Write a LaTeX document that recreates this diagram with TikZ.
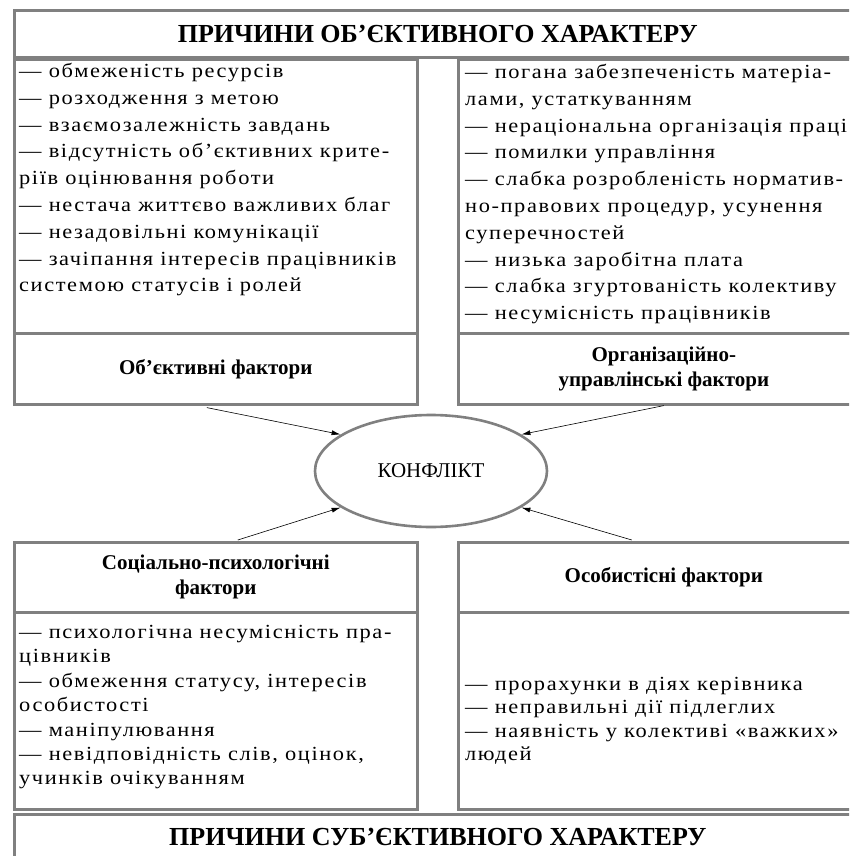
\documentclass[tikz,border=0pt]{standalone}
\usepackage{fontspec}
\setmainfont{Liberation Serif}
\newfontfamily\listfont[LetterSpace=8,FakeStretch=1.12]{Liberation Serif}
\usetikzlibrary{arrows.meta,shapes.geometric,calc}

\begin{document}
\begin{tikzpicture}[x=1pt,y=-1pt,
  frame/.style={draw=gray,line width=2.6pt,inner sep=0pt,anchor=north west},
  listtext/.style={anchor=north west,inner sep=0pt,align=left,
    font=\listfont\fontsize{20}{26.8}\selectfont},
  factor/.style={font=\bfseries\fontsize{21}{25}\selectfont,align=center},
  headline/.style={font=\bfseries\fontsize{26}{28}\selectfont},
  arr/.style={-{Latex[length=9pt,width=5pt]},line width=0.6pt}]
  \useasboundingbox (0,0) rectangle (849,856);
  \clip (0,0) rectangle (849,856);
  % top
  \node[frame,headline,minimum width=847pt,minimum height=47pt] (objtitle) at (13,9)
  {ПРИЧИНИ ОБ’ЄКТИВНОГО ХАРАКТЕРУ};
  \node[frame,minimum width=403pt,minimum height=274pt] (objbox) at (13,58) {};
  \node[frame,minimum width=411pt,minimum height=274pt] (orgbox) at (457,58) {};
  \node[listtext] (objlist) at ($(objbox.north west)+(6,5)$)
  {— обмеженість ресурсів\\
   — розходження з метою\\
   — взаємозалежність завдань\\
   — відсутність об’єктивних крите-\\
   ріїв оцінювання роботи\\
   — нестача життєво важливих благ\\
   — незадовільні комунікації\\
   — зачіпання інтересів працівників\\
   системою статусів і ролей};
  \node[listtext] (orglist) at ($(orgbox.north west)+(8,6)$)
  {— погана забезпеченість матеріа-\\
   лами, устаткуванням\\
   — нераціональна організація праці\\
   — помилки управління\\
   — слабка розробленість норматив-\\
   но-правових процедур, усунення\\
   суперечностей\\
   — низька заробітна плата\\
   — слабка згуртованість колективу\\
   — несумісність працівників};
  \node[frame,factor,minimum width=403pt,minimum height=71pt] (objf) at (13,332)
  {Об’єктивні фактори};
  \node[frame,factor,minimum width=411pt,minimum height=71pt] (orgf) at (457,332)
  {Організаційно-\\управлінські фактори};
  % centre
  \node[draw=gray,line width=2.6pt,ellipse,inner sep=0pt,minimum width=232pt,
    minimum height=112pt,font=\fontsize{21}{23}\selectfont] (konf) at (431,471) {КОНФЛІКТ};
  % bottom
  \node[frame,factor,minimum width=403pt,minimum height=70pt] (socf) at (13,541)
  {Соціально-психологічні\\фактори};
  \node[frame,factor,minimum width=411pt,minimum height=70pt] (perf) at (457,541)
  {Особистісні фактори};
  \node[frame,minimum width=403pt,minimum height=197pt] (socbox) at (13,611) {};
  \node[frame,minimum width=411pt,minimum height=197pt] (perbox) at (457,611) {};
  \node[listtext,font=\listfont\fontsize{20}{24.4}\selectfont] (soclist)
  at ($(socbox.north west)+(6,14)$)
  {— психологічна несумісність пра-\\
   цівників\\
   — обмеження статусу, інтересів\\
   особистості\\
   — маніпулювання\\
   — невідповідність слів, оцінок,\\
   учинків очікуванням};
  \node[listtext,font=\listfont\fontsize{20}{23.4}\selectfont] (perlist)
  at ($(perbox.north west)+(8,66)$)
  {— прорахунки в діях керівника\\
   — неправильні дії підлеглих\\
   — наявність у колективі «важких»\\
   людей};
  \node[frame,headline,minimum width=847pt,minimum height=45pt] (subtitle) at (13,813)
  {ПРИЧИНИ СУБ’ЄКТИВНОГО ХАРАКТЕРУ};
  % arrows
  \draw[arr] ($(objf.south)+(-9,2)$) -- (konf.158);
  \draw[arr] (orgf.south) -- (konf.22);
  \draw[arr] ($(socf.north)+(22,-1)$) -- (konf.202);
  \draw[arr] ($(perf.north)+(-32,-1)$) -- (konf.338);
\end{tikzpicture}
\end{document}
